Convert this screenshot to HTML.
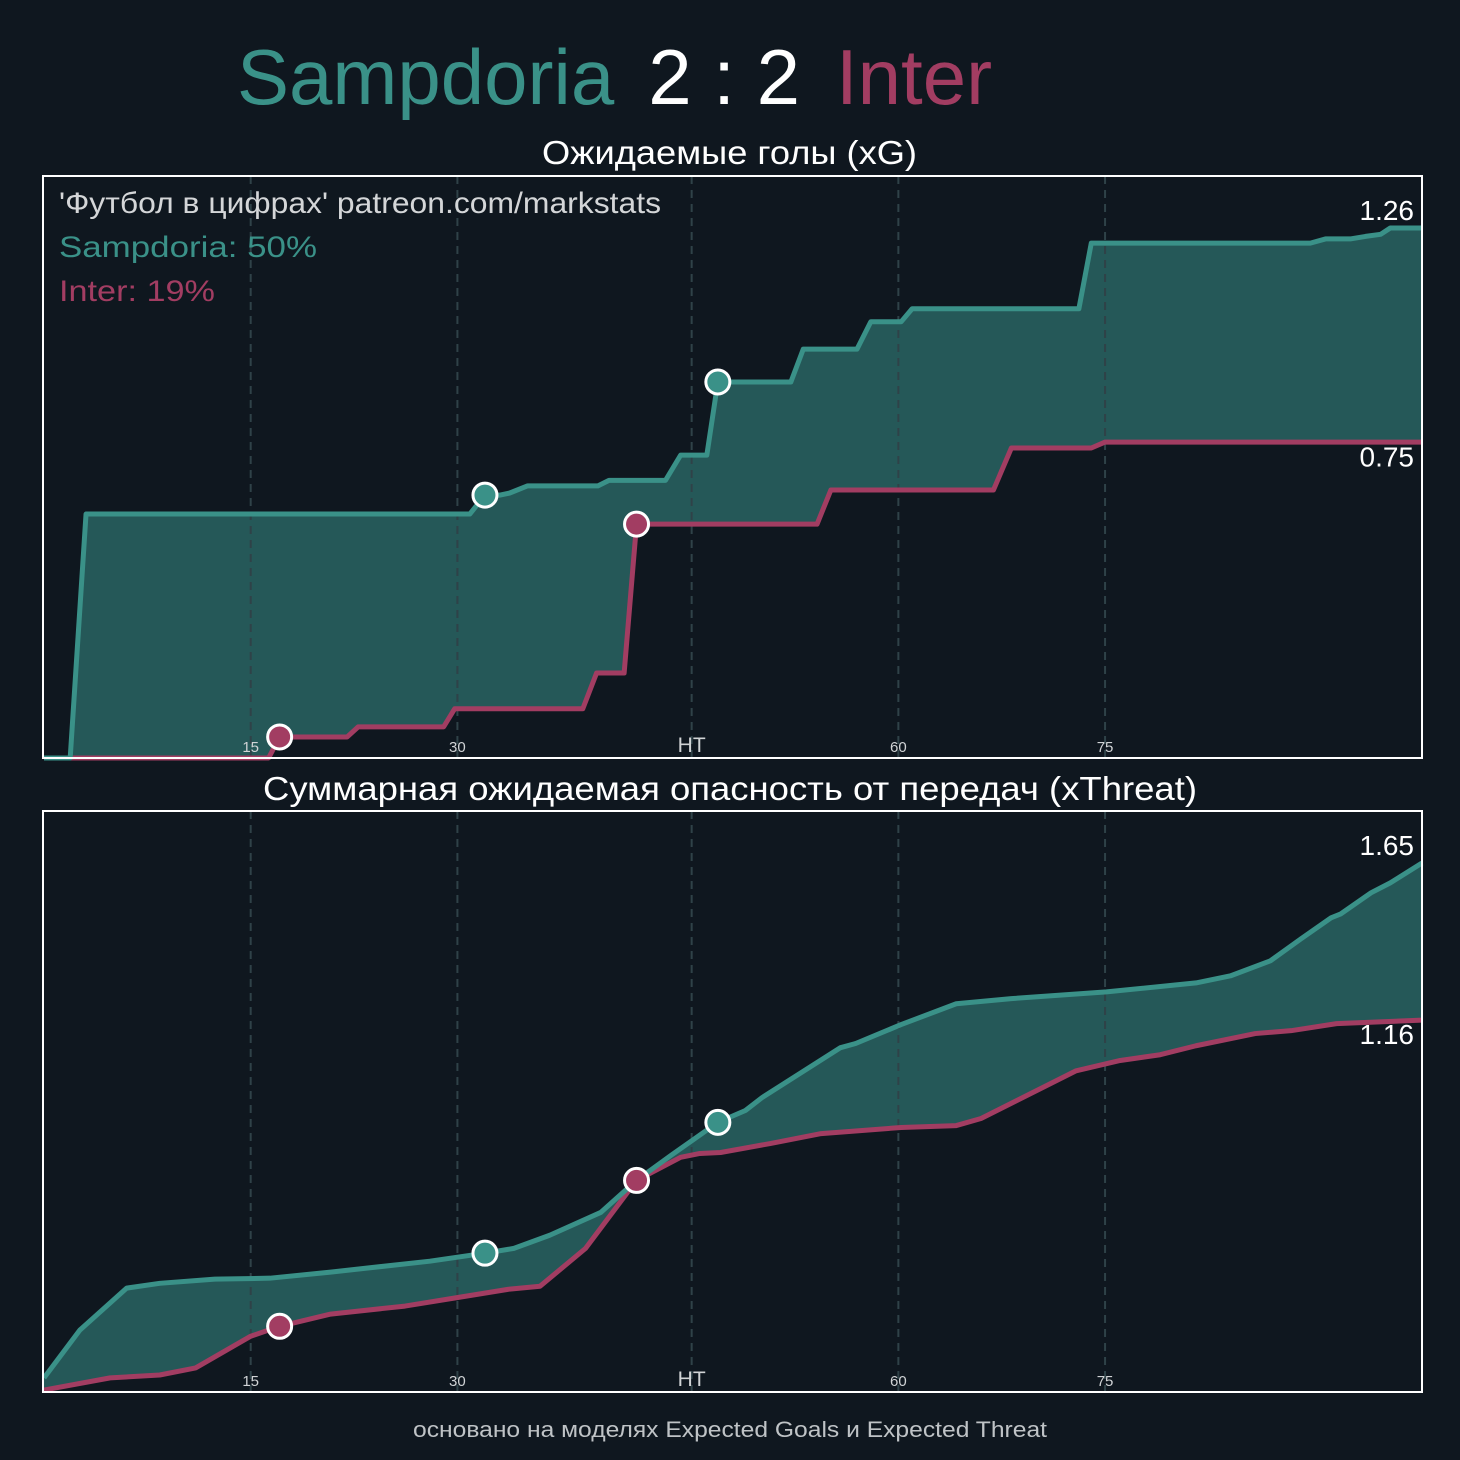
<!DOCTYPE html>
<html><head><meta charset="utf-8"><style>
html,body{margin:0;padding:0;background:#0f171f;}
svg{display:block;font-family:"Liberation Sans","DejaVu Sans",sans-serif;}
</style></head><body>
<svg id="c" width="1460" height="1460" viewBox="0 0 1460 1460" xmlns="http://www.w3.org/2000/svg">
<rect width="1460" height="1460" fill="#0f171f"/>
<text x="237" y="104" font-size="78"><tspan fill="#3a9188">Sampdoria</tspan><tspan fill="#ffffff" dx="34">2 : 2</tspan><tspan fill="#a23d62" dx="36">Inter</tspan></text>
<text x="542" y="164" font-size="33" fill="#ffffff" textLength="375" lengthAdjust="spacingAndGlyphs">Ожидаемые голы (xG)</text>
<text x="263" y="800" font-size="33" fill="#ffffff" textLength="934" lengthAdjust="spacingAndGlyphs">Суммарная ожидаемая опасность от передач (xThreat)</text>
<text x="413" y="1437" font-size="22" fill="#bfc3c6" textLength="634" lengthAdjust="spacingAndGlyphs">основано на моделях Expected Goals и Expected Threat</text>
<g id="p1"></g>
<g id="p2"></g>
</svg>
<script>
// xG data (timeline minutes, HT at 47)
const sampXgMin=[0,1.9,3.05,30.9,32.0,33.1,33.8,35.1,40.2,41.0,45.1,46.2,48.1,48.9,54.2,55.1,59.0,60.0,62.2,63.0,75.1,76.0,91.9,93.0,94.8,95.9,97.0,97.7,100];
const sampXgVal=[0,0,0.58,0.58,0.625,0.625,0.63,0.647,0.647,0.66,0.66,0.72,0.72,0.894,0.894,0.972,0.972,1.037,1.037,1.068,1.068,1.224,1.224,1.234,1.234,1.24,1.245,1.26,1.26];
const interXgMin=[0,16.3,17.1,22.0,22.8,29.0,29.8,39.1,40.1,42.1,43.0,56.1,57.1,68.9,70.2,76.0,77.0,100];
const interXgVal=[0,0,0.05,0.05,0.074,0.074,0.117,0.117,0.202,0.202,0.556,0.556,0.637,0.637,0.737,0.737,0.751,0.751];
// xThreat data
const sampXtMin=[0,2.6,6.0,8.4,12.4,16.4,20.8,28.0,32.0,34.1,36.7,40.4,43.0,45.5,48.9,50.9,52.1,57.8,58.9,62.2,66.2,70.2,77.1,83.6,86.1,89.0,91.2,93.4,94.1,96.3,97.7,100];
const sampXtVal=[0.044,0.193,0.324,0.339,0.352,0.355,0.374,0.408,0.433,0.448,0.489,0.560,0.660,0.738,0.841,0.878,0.918,1.074,1.087,1.146,1.211,1.227,1.248,1.276,1.298,1.345,1.413,1.479,1.491,1.557,1.588,1.65];
const interXtMin=[0,4.8,8.4,11.0,15.0,17.1,20.8,26.2,30.2,33.8,36.0,39.3,43.0,46.2,47.6,49.1,52.7,56.4,62.2,66.2,68.0,72.3,74.9,78.1,81.0,83.6,87.9,90.5,93.8,100];
const interXtVal=[0.006,0.044,0.053,0.075,0.174,0.205,0.243,0.268,0.296,0.321,0.330,0.448,0.660,0.732,0.744,0.747,0.775,0.806,0.825,0.831,0.853,0.946,1.002,1.034,1.052,1.080,1.118,1.127,1.149,1.16];
const sampGoals=[32.0,48.9];
const interGoals=[17.1,43.0];
const tickMin=[15,30,47,62,77];
const tickLabels=["15","30","HT","60","75"];
const xgTotals=[1.26,0.75];
const xtTotals=[1.65,1.16];

const NS="http://www.w3.org/2000/svg";
const X0=44,X1=1422,MAXM=100;
const xs=m=>X0+(X1-X0)*m/MAXM;
function mk(tag,attrs,parent){const e=document.createElementNS(NS,tag);for(const k in attrs)e.setAttribute(k,attrs[k]);parent.appendChild(e);return e;}
function interp(ms,vs,m){for(let i=1;i<ms.length;i++){if(m<=ms[i]){const t=(m-ms[i-1])/((ms[i]-ms[i-1])||1);return vs[i-1]+t*(vs[i]-vs[i-1]);}}return vs[vs.length-1];}
function panel(g,top,bot,maxV,sM,sV,iM,iV,totals,header){
  const ys=v=>bot-(bot-top-52)*v/maxV;
  let pts=sM.map((m,i)=>xs(m)+','+ys(sV[i]));
  let rpts=iM.map((m,i)=>xs(m)+','+ys(iV[i])).reverse();
  const f=mk('polygon',{points:pts.concat(rpts).join(' '),fill:'#255858'},g);
  
  
  tickMin.forEach((m,i)=>{
    const l=mk('line',{x1:xs(m),x2:xs(m),y1:top,y2:bot,stroke:'#2f4248','stroke-width':2,'stroke-dasharray':'8,6'},g);
    
    
    const t=mk('text',{x:xs(m),y:bot-6,'text-anchor':'middle','font-size':m===47?21:15,fill:'#d0d3d5'},g);
    t.textContent=tickLabels[i];
    
    
  });
  const li=mk('polyline',{points:iM.map((m,i)=>xs(m)+','+ys(iV[i])).join(' '),fill:'none',stroke:'#a23d62','stroke-width':5,'stroke-linejoin':'round'},g);
  
  
  const ls=mk('polyline',{points:pts.join(' '),fill:'none',stroke:'#3a9188','stroke-width':5,'stroke-linejoin':'round'},g);
  
  
  sampGoals.forEach(m=>{const c=mk('circle',{cx:xs(m),cy:ys(interp(sM,sV,m)),r:12,fill:'#3a9188',stroke:'#fff','stroke-width':3},g);
    
    });
  interGoals.forEach(m=>{const c=mk('circle',{cx:xs(m),cy:ys(interp(iM,iV,m)),r:12,fill:'#a23d62',stroke:'#fff','stroke-width':3},g);
    
    });
  totals.forEach((v,i)=>{const t=mk('text',{x:1414,y:i===0?ys(v)-8:ys(v)+24,'text-anchor':'end','font-size':28,fill:'#ffffff'},g);
    t.textContent=v.toFixed(2);
    
    });
  const fr=mk('rect',{x:43,y:top,width:1379,height:bot-top,fill:'none',stroke:'#ffffff','stroke-width':2},g);
  
  
  if(header){
    const a=[["'Футбол в цифрах' patreon.com/markstats",'#d4d6d8','watermark',602],["Sampdoria: 50%",'#3a9188','sampdoria-win-prob',258],["Inter: 19%",'#a23d62','inter-win-prob',156]];
    a.forEach((r,i)=>{const t=mk('text',{x:59,y:213+i*44,'font-size':30,fill:r[1],textLength:r[3],lengthAdjust:'spacingAndGlyphs'},g);t.textContent=r[0];
      
      });
  }
}
panel(document.getElementById('p1'),176,758,1.26,sampXgMin,sampXgVal,interXgMin,interXgVal,xgTotals,true);
panel(document.getElementById('p2'),811,1392,1.65,sampXtMin,sampXtVal,interXtMin,interXtVal,xtTotals,false);
</script>
</body></html>
